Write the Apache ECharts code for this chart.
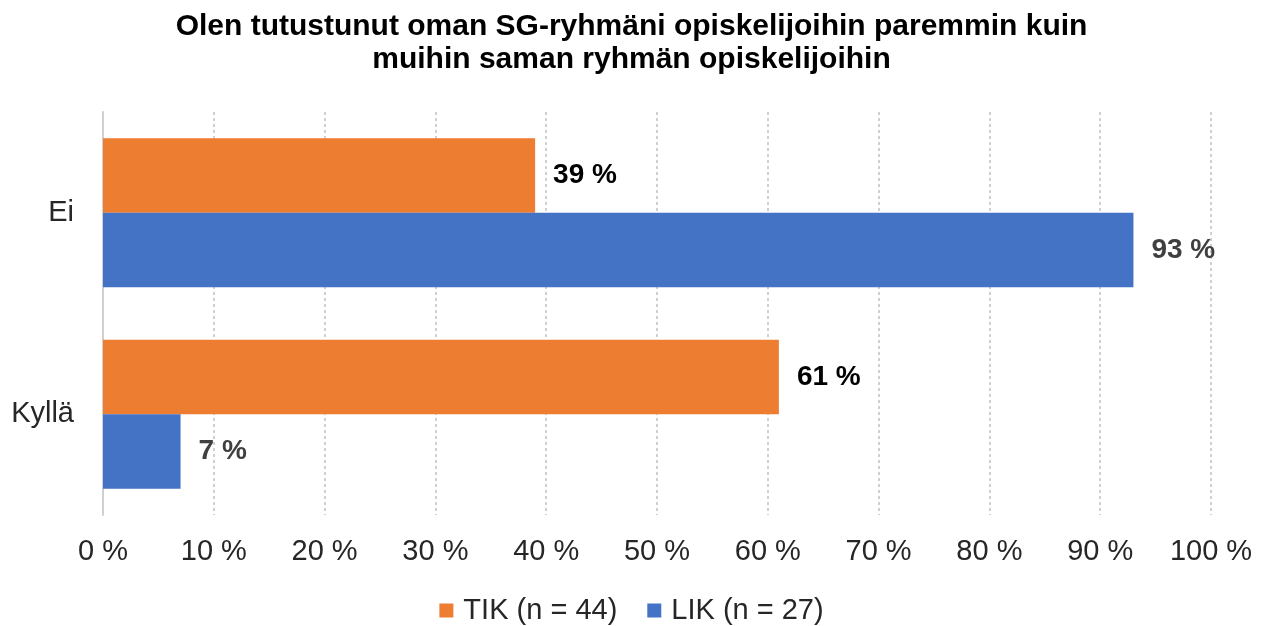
<!DOCTYPE html>
<html>
<head>
<meta charset="utf-8">
<script src="https://cdn.jsdelivr.net/npm/echarts@6/dist/echarts.min.js"></script>
<style>
  html, body { margin: 0; padding: 0; background: #fff; }
  #chart { width: 1263px; height: 626px; }
</style>
</head>
<body>
<div id="chart"></div>
<script>
const categories = ["Ei", "Kyllä"];
const seriesNames = ["TIK (n = 44)", "LIK (n = 27)"];
const tikValues = [39, 61];
const likValues = [93, 7];

const chart = echarts.init(document.getElementById("chart"), null, { renderer: "canvas" });
const font = "'Liberation Sans', Arial, sans-serif";

chart.setOption({
  animation: false,
  backgroundColor: "#fff",
  title: {
    text: "Olen tutustunut oman SG-ryhmäni opiskelijoihin paremmin kuin\nmuihin saman ryhmän opiskelijoihin",
    left: "center",
    top: 5,
    textStyle: {
      fontFamily: font,
      fontSize: 30,
      fontWeight: "bold",
      color: "#000",
      lineHeight: 33,
    },
  },
  legend: {
    data: seriesNames,
    top: 591,
    left: "center",
    itemWidth: 14,
    itemHeight: 14,
    itemGap: 30,
    icon: "rect",
    textStyle: { fontFamily: font, fontSize: 29, color: "#262626", padding: [0, 0, 0, 5] },
  },
  grid: { left: 103, right: 52, top: 112, bottom: 111, containLabel: false },
  xAxis: {
    type: "value",
    min: 0,
    max: 100,
    interval: 10,
    axisLine: { show: false },
    axisTick: { show: false },
    axisLabel: {
      fontFamily: font,
      fontSize: 29,
      color: "#262626",
      margin: 22,
      formatter: (v) => v + " %",
    },
    splitLine: {
      show: true,
      lineStyle: { color: "#d0d0d0", type: [3, 3], width: 2 },
    },
  },
  yAxis: {
    type: "category",
    data: categories,
    inverse: true,
    axisLine: { show: true, lineStyle: { color: "#d0d0d0", width: 2 } },
    axisTick: { show: false },
    axisLabel: { fontFamily: font, fontSize: 29, color: "#262626", margin: 29 },
  },
  series: [
    {
      name: seriesNames[0],
      type: "bar",
      data: tikValues,
      barGap: "0%",
      barCategoryGap: "26%",
      itemStyle: { color: "#ED7D31" },
      label: {
        show: true,
        position: "right",
        distance: 18,
        formatter: (p) => p.value + " %",
        fontFamily: font,
        fontSize: 28,
        fontWeight: "bold",
        color: "#000",
      },
    },
    {
      name: seriesNames[1],
      type: "bar",
      data: likValues,
      barGap: "0%",
      barCategoryGap: "26%",
      itemStyle: { color: "#4472C4" },
      label: {
        show: true,
        position: "right",
        distance: 18,
        formatter: (p) => p.value + " %",
        fontFamily: font,
        fontSize: 28,
        fontWeight: "bold",
        color: "#404040",
      },
    },
  ],
});
</script>
</body>
</html>
